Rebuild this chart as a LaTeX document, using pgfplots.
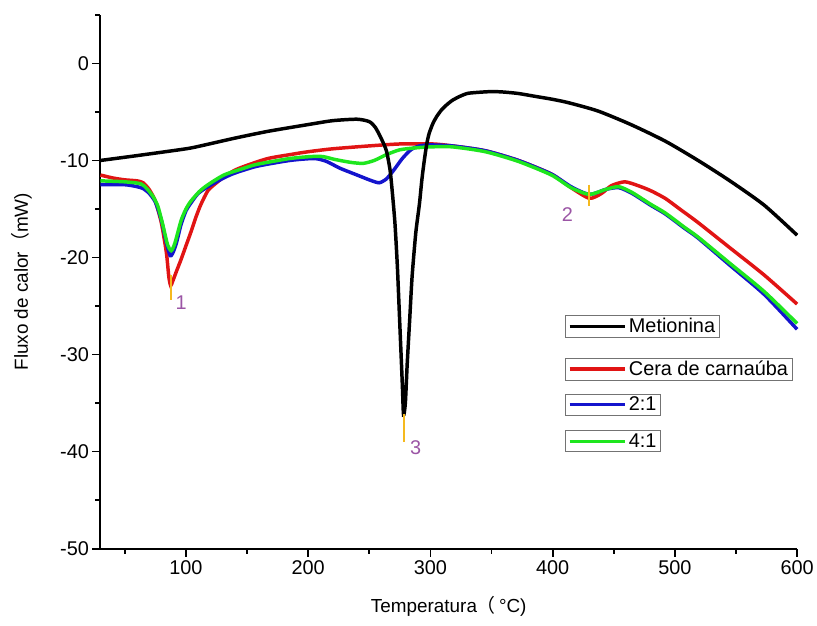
\documentclass[border=0pt]{standalone}
\usepackage{pgfplots}
\pgfplotsset{compat=1.18}
\usepackage{fontspec}
\setmainfont{Liberation Sans}
\newfontfamily\cjk{Noto Sans CJK SC}

\definecolor{cRed}{RGB}{225,20,20}
\definecolor{cBlue}{RGB}{20,20,205}
\definecolor{cGreen}{RGB}{30,230,30}
\definecolor{cMark}{RGB}{245,185,30}
\definecolor{cNum}{RGB}{155,85,165}

\pgfplotsset{
  dscframe/.style={
    scale only axis, width=701pt, height=537pt,
    xmin=30, xmax=600, ymin=-50, ymax=5,
  },
  boxlegend/.style={
    legend style={draw=black!55, line width=0.7pt, fill=white,
      inner xsep=2pt, inner ysep=1pt,
      font=\fontsize{20}{23}\selectfont, anchor=north west,
      at={(rel axis cs:0.6675,#1)}},
    legend image code/.code={\draw[##1] (0pt,0pt) -- (56pt,0pt);},
  },
}

\begin{document}
\begin{tikzpicture}
\begin{axis}[
  dscframe,
  axis lines=left,
  axis line style={line width=2pt, -},
  xtick={100,200,...,600},
  minor xtick={50,150,...,550},
  ytick={-50,-40,...,0},
  minor ytick={-45,-35,...,5},
  tick align=outside,
  major tick length=8pt,
  minor tick length=5pt,
  every tick/.style={black, line width=1.8pt},
  /pgf/number format/assume math mode=true,
  tick label style={font=\fontsize{20}{23}\selectfont},
  xticklabel style={yshift=-1pt},
  xlabel={Temperatura{\cjk （}\,°C)},
  ylabel={Fluxo de calor{\cjk （}mW)},
  every axis x label/.style={at={(axis description cs:0.5,0)}, anchor=center, yshift=-58pt, font=\fontsize{19}{22}\selectfont},
  every axis y label/.style={at={(axis description cs:-0.1127,0.5)}, rotate=90, anchor=center, font=\fontsize{19}{22}\selectfont},
  boxlegend=0.4376,
  clip=false,
]
% Cera de carnauba
\addplot[cRed, line width=3.5pt, smooth, tension=0.4, forget plot] coordinates {
(30,-11.5) (40,-11.8) (50,-12.0) (60,-12.1) (65,-12.3) (70,-13.0) (75,-14.2) (80,-16.5) (84,-19.5) (86,-22.0) (87.5,-22.9) (89,-22.5) (92,-21.5) (96,-20.2) (100,-18.8) (104,-17.4) (108,-15.9) (112,-14.6) (118,-13.1) (125,-12.3) (131,-11.7) (140,-11.0) (150,-10.5) (167,-9.8) (185,-9.4) (200,-9.1) (220,-8.8) (250,-8.5) (275,-8.3) (302,-8.3) (318,-8.5) (345,-9.0) (372,-10.0) (399,-11.4) (415,-12.8) (430,-13.9) (440,-13.4) (448,-12.6) (459,-12.2) (470,-12.6) (480,-13.1) (492,-13.9) (505,-15.1) (519,-16.4) (545,-19.0) (573,-21.8) (600,-24.8)
};
% 2:1
\addplot[cBlue, line width=3.5pt, smooth, tension=0.4, forget plot] coordinates {
(30,-12.5) (50,-12.5) (60,-12.7) (65,-12.9) (70,-13.4) (75,-14.3) (80,-16.2) (84,-18.5) (87,-19.8) (89,-19.6) (92,-18.6) (96,-16.6) (100,-15.2) (104,-14.4) (110,-13.4) (118,-12.7) (131,-11.8) (140,-11.3) (158,-10.6) (185,-10.0) (205,-9.8) (215,-10.1) (226,-10.8) (240,-11.5) (250,-12.0) (258,-12.3) (264,-11.9) (270,-11.0) (277,-9.8) (284,-8.9) (291,-8.5) (300,-8.4) (318,-8.5) (345,-9.0) (372,-10.0) (399,-11.4) (415,-12.7) (430,-13.5) (443,-13.0) (454,-12.8) (465,-13.4) (480,-14.6) (492,-15.5) (508,-17.0) (519,-18.0) (545,-20.8) (573,-23.8) (600,-27.4)
};
% 4:1
\addplot[cGreen, line width=3.5pt, smooth, tension=0.4, forget plot] coordinates {
(30,-12.1) (50,-12.2) (63,-12.4) (68,-12.9) (73,-13.7) (77,-14.7) (81,-16.6) (85,-18.7) (88,-19.3) (91,-18.5) (96,-16.2) (100,-15.0) (104,-14.2) (111,-13.2) (118,-12.5) (131,-11.5) (145,-10.9) (158,-10.4) (185,-9.8) (202,-9.6) (212,-9.6) (222,-9.9) (235,-10.2) (245,-10.3) (254,-10.0) (264,-9.4) (275,-8.9) (288,-8.7) (300,-8.6) (318,-8.6) (345,-9.1) (372,-10.1) (399,-11.5) (415,-12.8) (430,-13.5) (443,-13.0) (454,-12.7) (465,-13.3) (480,-14.5) (492,-15.4) (508,-16.9) (519,-17.9) (545,-20.6) (573,-23.5) (600,-26.8)
};
% Metionina
\addplot[black, line width=3.5pt, smooth, tension=0.4] coordinates {
(30,-10.0) (60,-9.5) (100,-8.8) (112,-8.5) (140,-7.7) (167,-7.0) (200,-6.3) (220,-5.9) (240,-5.75) (250,-6.0) (255,-6.6) (260,-7.8) (264,-9.0) (267,-11.0) (269,-13.5) (271,-16.5) (273,-21.0) (275,-27.0) (277,-33.0) (278,-36.2) (279.5,-35.0) (281,-31.0) (283,-26.5) (285,-22.0) (288,-17.5) (291,-14.5) (293,-12.0) (295,-10.0) (297,-8.3) (299,-7.2) (302,-6.2) (305,-5.5) (309,-4.8) (313,-4.3) (318,-3.8) (324,-3.4) (330,-3.1) (337,-3.0) (350,-2.9) (360,-2.95) (372,-3.1) (386,-3.4) (400,-3.7) (413,-4.05) (437,-4.9) (464,-6.3) (492,-8.0) (519,-10.0) (545,-12.1) (573,-14.6) (600,-17.7)
};
\addlegendentry{Metionina}
% peak markers
\addplot[cMark, line width=2pt, forget plot] coordinates {(88,-21.8) (88,-24.4)};
\addplot[cMark, line width=2pt, forget plot] coordinates {(278,-36.1) (278,-39.0)};
\addplot[cMark, line width=2pt, forget plot] coordinates {(430,-12.5) (430,-14.7)};
\node[cNum, font=\fontsize{20}{23}\selectfont] at (axis cs:96,-24.7) {1};
\node[cNum, font=\fontsize{20}{23}\selectfont] at (axis cs:412,-15.6) {2};
\node[cNum, font=\fontsize{20}{23}\selectfont] at (axis cs:288,-39.6) {3};
\end{axis}

\begin{axis}[dscframe, hide axis, boxlegend=0.3575]
\addlegendimage{cRed, line width=3.5pt}
\addlegendentry{Cera de carnaúba}
\end{axis}
\begin{axis}[dscframe, hide axis, boxlegend=0.2905]
\addlegendimage{cBlue, line width=3.5pt}
\addlegendentry{2:1}
\end{axis}
\begin{axis}[dscframe, hide axis, boxlegend=0.2216]
\addlegendimage{cGreen, line width=3.5pt}
\addlegendentry{4:1}
\end{axis}

\path ([shift={(-101pt,-77pt)}]current axis.south west) rectangle ([shift={(17pt,15pt)}]current axis.north east);
\end{tikzpicture}
\end{document}
